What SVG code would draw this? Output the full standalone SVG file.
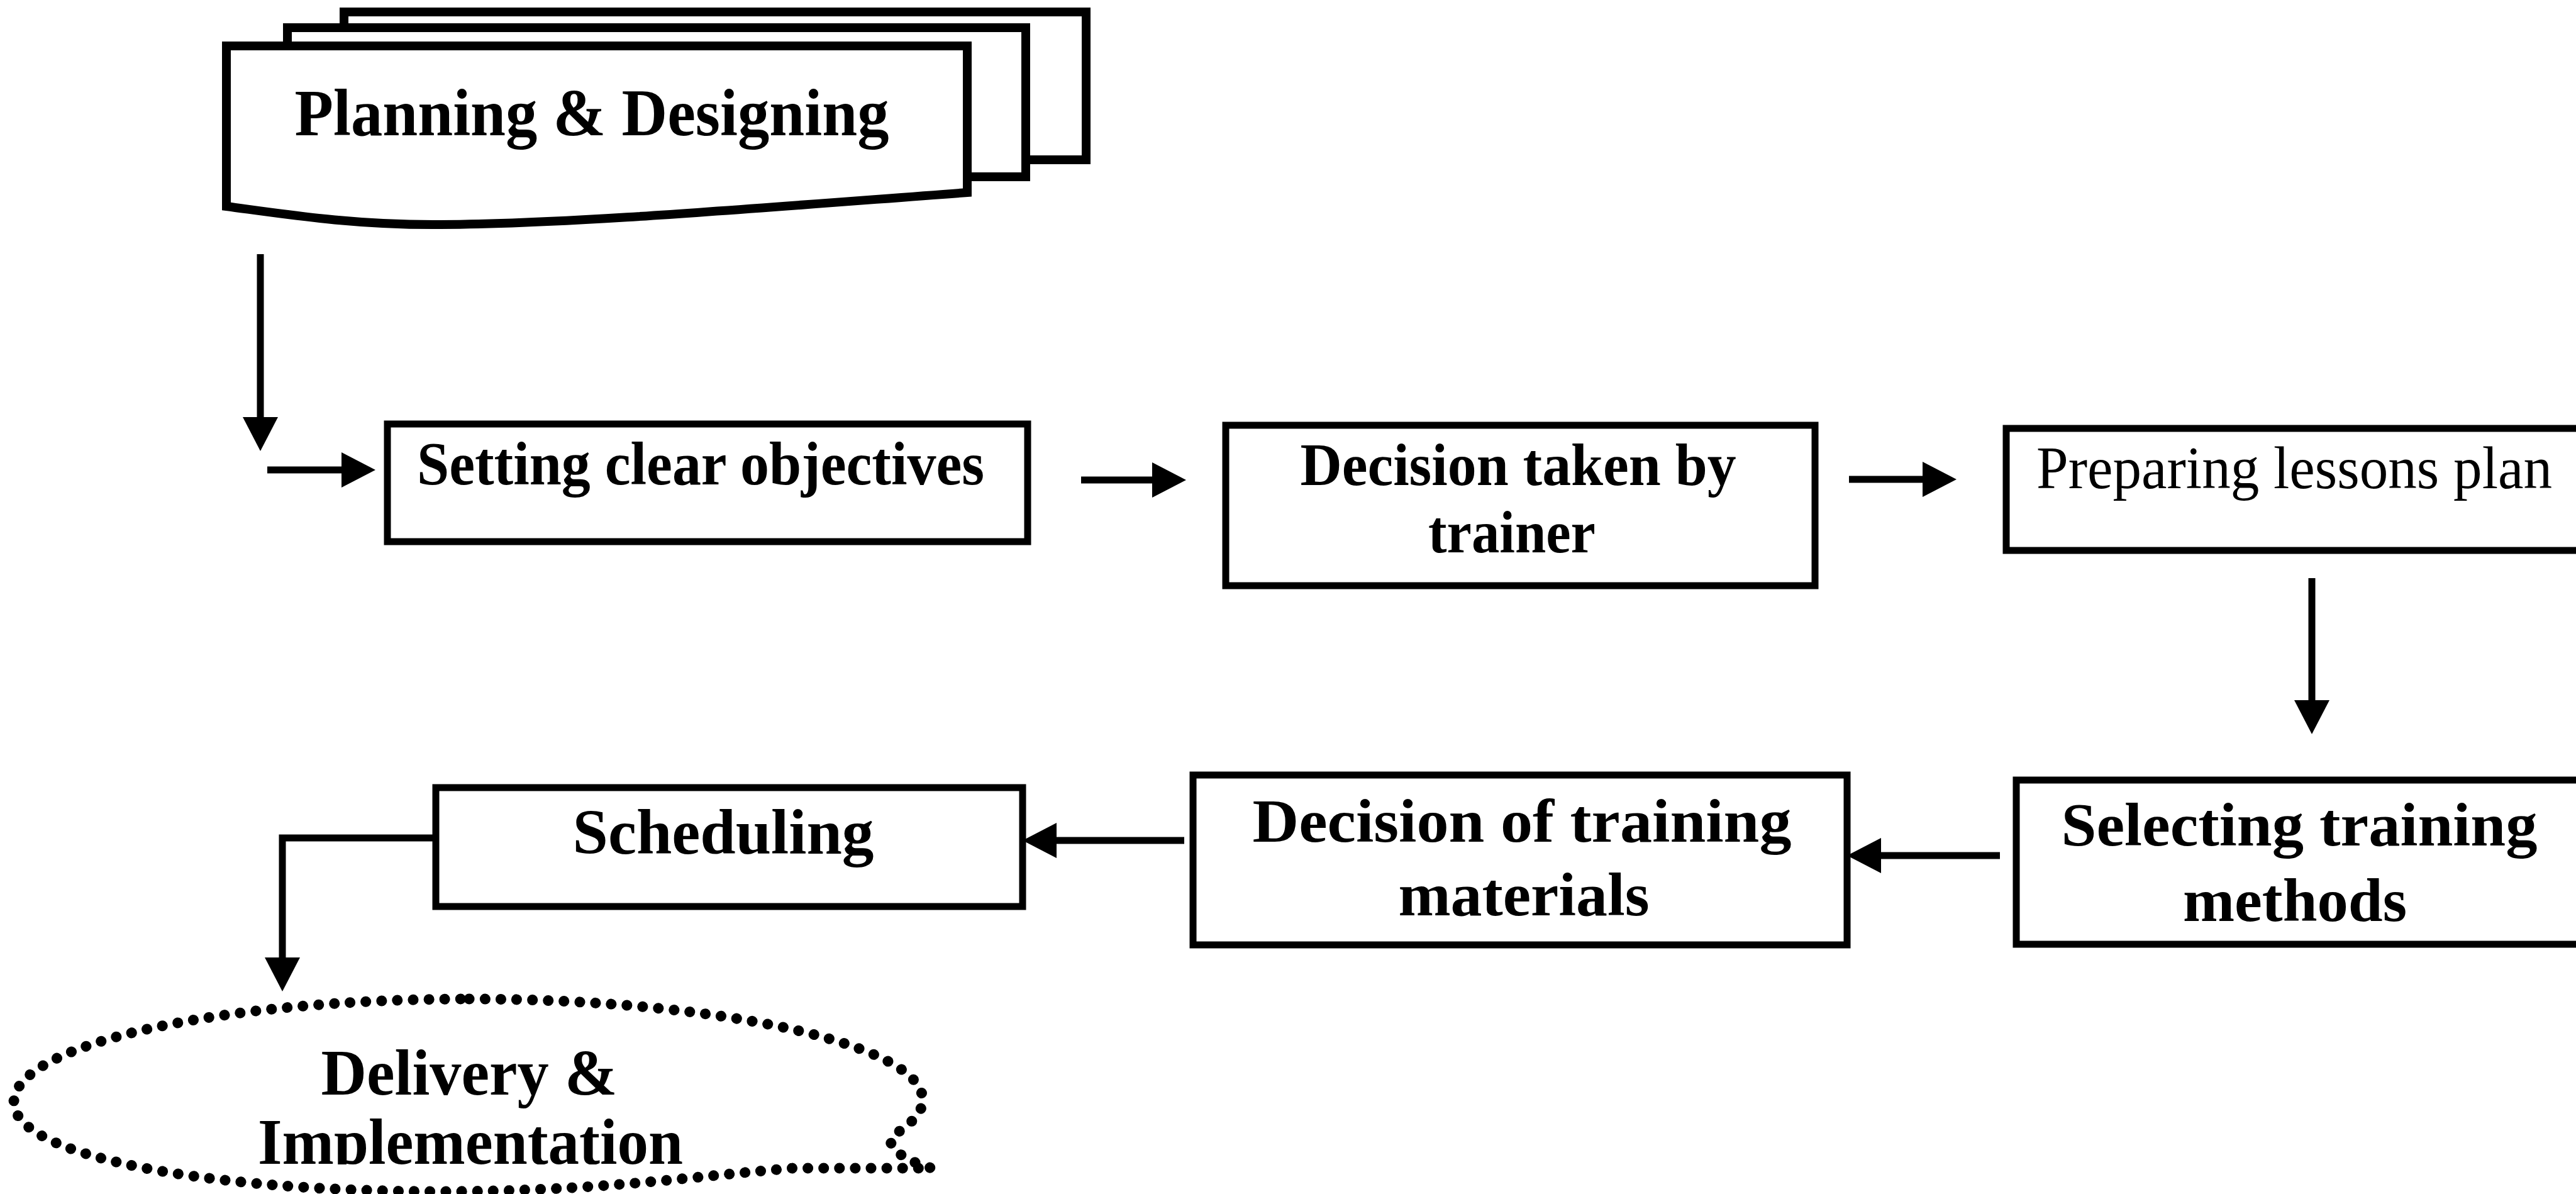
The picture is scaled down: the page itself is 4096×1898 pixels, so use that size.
<svg xmlns="http://www.w3.org/2000/svg" width="4096" height="1898" viewBox="0 0 4096 1898">
  <style>
    .box { fill: #fff; stroke: #000; stroke-width: 11; }
    .sheet { fill: #fff; stroke: #000; stroke-width: 14; stroke-linejoin: miter; }
    .cloud { fill: #fff; stroke: #000; stroke-width: 17; stroke-linecap: round; stroke-dasharray: 0.1 25; }
    .lbl { font-family: "Liberation Serif", "Times New Roman", serif; font-weight: bold; fill: #000; text-anchor: middle; }
    .reg { font-weight: normal; }
    .wire { fill: none; stroke: #000; stroke-width: 11; }
  </style>
  <defs>
    <marker id="head" markerUnits="userSpaceOnUse" viewBox="0 0 54 56" markerWidth="54" markerHeight="56" refX="0" refY="28" orient="auto">
      <path d="M0,0 L54,28 L0,56 Z" fill="#000"/>
    </marker>
    <clipPath id="clipLast">
      <rect x="0" y="1600" width="1600" height="251"/>
    </clipPath>
  </defs>

  <rect width="4096" height="1898" fill="#fff"/>

  <!-- Planning & Designing: stacked documents -->
  <g id="planning">
    <rect class="sheet" x="547" y="19" width="1180" height="235"/>
    <rect class="sheet" x="457" y="44" width="1174" height="237"/>
    <path class="sheet" d="M360,73 H1538 V306 C1150,335 900,356 700,357 C560,358 450,340 360,328 Z"/>
    <text class="lbl" x="941" y="215" font-size="106" textLength="945" lengthAdjust="spacingAndGlyphs">Planning &amp; Designing</text>
  </g>

  <g id="setting">
    <rect class="box" x="616" y="674" width="1018" height="187"/>
    <text class="lbl" x="1114" y="770" font-size="98" textLength="902" lengthAdjust="spacingAndGlyphs">Setting clear objectives</text>
  </g>

  <g id="decision-trainer">
    <rect class="box" x="1949" y="676" width="937" height="255"/>
    <text class="lbl" x="2414" y="771" font-size="95" textLength="693" lengthAdjust="spacingAndGlyphs">Decision taken by</text>
    <text class="lbl" x="2404" y="878" font-size="95" textLength="266" lengthAdjust="spacingAndGlyphs">trainer</text>
  </g>

  <g id="lessons-plan">
    <rect class="box" x="3190" y="681" width="1000" height="194"/>
    <text class="lbl reg" x="3648" y="776" font-size="96" textLength="820" lengthAdjust="spacingAndGlyphs">Preparing lessons plan</text>
  </g>

  <g id="training-methods">
    <rect class="box" x="3206" y="1240" width="1000" height="261"/>
    <text class="lbl" x="3656" y="1344" font-size="98" textLength="757" lengthAdjust="spacingAndGlyphs">Selecting training</text>
    <text class="lbl" x="3649" y="1464" font-size="98" textLength="356" lengthAdjust="spacingAndGlyphs">methods</text>
  </g>

  <g id="training-materials">
    <rect class="box" x="1897" y="1232" width="1040" height="270"/>
    <text class="lbl" x="2420" y="1338" font-size="98" textLength="857" lengthAdjust="spacingAndGlyphs">Decision of training</text>
    <text class="lbl" x="2423" y="1455" font-size="98" textLength="399" lengthAdjust="spacingAndGlyphs">materials</text>
  </g>

  <g id="scheduling">
    <rect class="box" x="693" y="1252" width="933" height="189"/>
    <text class="lbl" x="1150" y="1357" font-size="101" textLength="479" lengthAdjust="spacingAndGlyphs">Scheduling</text>
  </g>

  <g id="delivery">
    <path class="cloud" d="M746,1588 C1145,1588 1467,1661 1467,1748 C1467,1775 1440,1790 1420,1806 C1405,1822 1440,1846 1482,1857 L1260,1857 C1100,1870 950,1894 700,1894 C330,1894 22,1838 22,1752 C22,1661 347,1588 746,1588 Z"/>
    <text class="lbl" x="746" y="1740" font-size="104" textLength="471" lengthAdjust="spacingAndGlyphs">Delivery &amp;</text>
    <text class="lbl" x="748" y="1850" font-size="104" textLength="676" lengthAdjust="spacingAndGlyphs" clip-path="url(#clipLast)">Implementation</text>
  </g>

  <!-- flow connectors -->
  <g id="connectors">
    <line class="wire" x1="414" y1="404" x2="414" y2="663" marker-end="url(#head)"/>
    <line class="wire" x1="425" y1="747" x2="543" y2="747" marker-end="url(#head)"/>
    <line class="wire" x1="1719" y1="763" x2="1832" y2="763" marker-end="url(#head)"/>
    <line class="wire" x1="2940" y1="762" x2="3057" y2="762" marker-end="url(#head)"/>
    <line class="wire" x1="3676" y1="919" x2="3676" y2="1113" marker-end="url(#head)"/>
    <line class="wire" x1="3180" y1="1360" x2="2991" y2="1360" marker-end="url(#head)"/>
    <line class="wire" x1="1883" y1="1336" x2="1680" y2="1336" marker-end="url(#head)"/>
    <polyline class="wire" points="693,1332 449,1332 449,1522" marker-end="url(#head)"/>
  </g>
</svg>
